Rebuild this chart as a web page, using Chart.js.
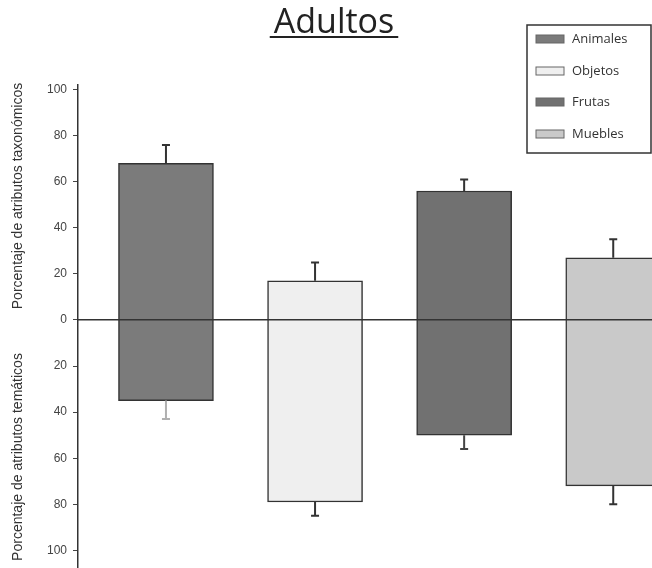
<!DOCTYPE html>
<html>
<head>
<meta charset="utf-8">
<script src="https://cdn.jsdelivr.net/npm/chart.js@4.4.1/dist/chart.umd.min.js"></script>
<style>
  html, body { margin: 0; padding: 0; background: #fff; overflow: hidden; }
  #wrap { width: 652px; height: 568px; overflow: hidden; }
</style>
</head>
<body>
<div id="wrap"><canvas id="chart" width="652" height="582"></canvas></div>
<script>
// valores
const categorias = ['Animales', 'Objetos', 'Frutas', 'Muebles'];
const posiciones = [1, 2, 3, 4];
const taxonomicos = [68, 17, 56, 27];       // parte superior
const tematicos = [35, 79, 50, 72];         // parte inferior (hacia abajo)
const errTaxonomicos = [8, 8, 5, 8];
const errTematicos = [8, 6, 6, 8];
const yTicks = [-100, -80, -60, -40, -20, 0, 20, 40, 60, 80, 100];

const colores = ['#7b7b7b', '#efefef', '#717171', '#c9c9c9'];
const coloresError = ['#333', '#333', '#333', '#333'];
const coloresErrorAbajo = ['#b0b0b0', '#333', '#444', '#333'];

document.addEventListener("DOMContentLoaded", () => {
  const ctx = document.getElementById("chart").getContext("2d");

  // barras de error
  const errorBars = {
    id: 'errorBars',
    afterDatasetsDraw(chart) {
      const { ctx, scales: { x, y } } = chart;
      ctx.save();
      ctx.lineWidth = 2;
      posiciones.forEach((p, i) => {
        const px = x.getPixelForValue(p);
        const drawErr = (from, to, color) => {
          const a = y.getPixelForValue(from);
          const b = y.getPixelForValue(to);
          ctx.strokeStyle = color;
          ctx.beginPath();
          ctx.moveTo(px, a);
          ctx.lineTo(px, b);
          ctx.moveTo(px - 4, b);
          ctx.lineTo(px + 4, b);
          ctx.stroke();
        };
        drawErr(taxonomicos[i], taxonomicos[i] + errTaxonomicos[i], coloresError[i]);
        drawErr(-tematicos[i], -tematicos[i] - errTematicos[i], coloresErrorAbajo[i]);
      });
      ctx.restore();
    }
  };

  // titulo, titulos de eje y leyenda
  const extras = {
    id: 'extras',
    afterDraw(chart) {
      const c = chart.ctx;
      c.save();
      // titulo subrayado
      c.fillStyle = '#222';
      c.font = '34px "Open Sans", Lato, sans-serif';
      c.textAlign = 'center';
      c.textBaseline = 'alphabetic';
      c.fillText('Adultos', 334, 33);
      const w = c.measureText('Adultos').width;
      c.fillRect(334 - w / 2 - 4, 36, w + 8, 2);

      // titulos del eje y
      c.font = '14px "Liberation Sans Narrow", "Arial Narrow", sans-serif';
      c.fillStyle = '#333';
      c.textBaseline = 'middle';
      c.save();
      c.translate(18, 196);
      c.rotate(-Math.PI / 2);
      c.fillText('Porcentaje de atributos taxonómicos', 0, 0);
      c.restore();
      c.save();
      c.translate(18, 457);
      c.rotate(-Math.PI / 2);
      c.fillText('Porcentaje de atributos temáticos', 0, 0);
      c.restore();

      // leyenda
      c.fillStyle = '#fff';
      c.fillRect(527, 25, 130, 128);
      c.strokeStyle = '#333';
      c.lineWidth = 1.5;
      c.strokeRect(527, 25, 124, 128);
      c.font = '13px "Open Sans", Lato, sans-serif';
      c.textAlign = 'left';
      const filas = [39, 71, 102, 134];
      categorias.forEach((cat, i) => {
        c.fillStyle = colores[i];
        c.fillRect(536, filas[i] - 4, 28, 8);
        c.strokeStyle = '#666';
        c.lineWidth = 1;
        c.strokeRect(536, filas[i] - 4, 28, 8);
        c.fillStyle = '#333';
        c.fillText(cat, 572, filas[i]);
      });
      c.restore();
    }
  };

  new Chart(ctx, {
    type: 'bar',
    data: {
      labels: categorias,
      datasets: [{
        label: 'Adultos',
        data: posiciones.map((p, i) => ({ x: p, y: [-tematicos[i], taxonomicos[i]] })),
        backgroundColor: colores,
        borderColor: '#333',
        borderWidth: 1.5,
        borderSkipped: false,
        barThickness: 95
      }]
    },
    options: {
      responsive: false,
      animation: false,
      layout: { padding: { top: 85, right: 0, bottom: 0, left: 0 } },
      plugins: {
        legend: { display: false },
        tooltip: { enabled: false },
        title: { display: false }
      },
      scales: {
        x: {
          type: 'linear',
          min: 0.41,
          max: 4.26,
          offset: false,
          position: { y: 0 },
          afterFit: scale => { scale.height = 0; },
          grid: { display: false },
          ticks: { display: false },
          border: { display: true, color: '#333', width: 1.5, z: 1 }
        },
        y: {
          min: -108,
          max: 102,
          afterBuildTicks: scale => { scale.ticks = yTicks.map(v => ({ value: v })); },
          afterFit: scale => { scale.width = 78; },
          grid: { drawOnChartArea: false, drawTicks: true, tickLength: 5, color: '#444' },
          border: { display: true, color: '#333', width: 1.5 },
          ticks: {
            color: '#444',
            padding: 6,
            font: { family: '"Liberation Sans", Arial, sans-serif', size: 12 },
            callback: v => Math.abs(v)
          }
        }
      }
    },
    plugins: [errorBars, extras]
  });
});
</script>
</body>
</html>
